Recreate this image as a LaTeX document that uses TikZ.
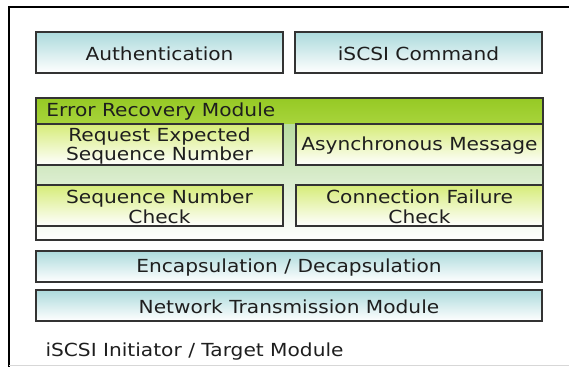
\documentclass[tikz,border=0pt]{standalone}
\usepackage{fontspec}
\setmainfont{DejaVu Sans}[FakeStretch=1.12]
\definecolor{boxline}{RGB}{51,51,51}
\definecolor{txt}{RGB}{30,30,30}
\definecolor{teal}{RGB}{172,218,220}
\definecolor{leaf}{RGB}{150,201,36}
\definecolor{lime}{RGB}{214,236,120}
\definecolor{moss}{RGB}{184,220,160}
\tikzset{every picture/.style={line width=0.75pt}}
\tikzset{
  bluebox/.style={draw=boxline, line width=1.1pt, top color=teal, bottom color=white},
  limebox/.style={draw=boxline, line width=1.1pt, top color=lime, bottom color=white},
  label/.style={text=txt, font=\fontsize{13.5}{14.8}\selectfont, align=center, inner sep=0pt}
}

\begin{document}
\begin{tikzpicture}[x=0.75pt,y=0.75pt,yscale=-1,xscale=1]
	\useasboundingbox (0,0) rectangle (569,367);

	%Straight Lines: outer frame
	\draw [line width=2pt]  (9,367) -- (9,7) -- (569,7) ;
	\draw [color={rgb, 255:red, 215; green, 215; blue, 215 }, line width=1pt]  (9,365.5) -- (569,365.5) ;

	%Shape: Rectangle
	\draw  [bluebox] (36,32) rectangle (283,73) ;
	%Shape: Rectangle
	\draw  [bluebox] (295,32) rectangle (542,73) ;

	%Shape: Rectangle (module body and header)
	\shade  [top color=moss, bottom color=white] (36,124) rectangle (543,240) ;
	\shade  [top color=leaf, bottom color={rgb, 255:red, 168; green, 212; blue, 60 }] (36,98) rectangle (543,124) ;
	\draw  [draw=boxline, line width=1.1pt] (36,98) rectangle (543,240) ;

	%Shape: Rectangle
	\draw  [limebox] (36,124) rectangle (283,165) ;
	%Shape: Rectangle
	\draw  [limebox] (296,124) rectangle (543,165) ;
	%Shape: Rectangle
	\draw  [limebox] (36,185) rectangle (283,226) ;
	%Shape: Rectangle
	\draw  [limebox] (296,185) rectangle (543,226) ;

	%Shape: Rectangle
	\draw  [bluebox] (36,251) rectangle (542,282) ;
	%Shape: Rectangle
	\draw  [bluebox] (36,290) rectangle (542,321) ;

	% Text Node
	\draw (159.5,53.5) node [label] (auth) {Authentication};
	% Text Node
	\draw (418.5,53.5) node [label] (cmd) {iSCSI Command};
	% Text Node
	\draw (46,112) node [label, anchor=west] (erm) {Error Recovery Module};
	% Text Node
	\draw (159.5,146) node [label] (rexp) {Request Expected\\Sequence Number};
	% Text Node
	\draw (419.5,145.5) node [label] (async) {Asynchronous Message};
	% Text Node
	\draw (159.5,207) node [label] (snc) {Sequence Number\\Check};
	% Text Node
	\draw (419.5,207) node [label] (cfc) {Connection Failure\\Check};
	% Text Node
	\draw (289,268) node [label] (encap) {Encapsulation / Decapsulation};
	% Text Node
	\draw (289,306.5) node [label] (net) {Network Transmission Module};
	% Text Node
	\draw (45,352) node [label, anchor=west] (itm) {iSCSI Initiator / Target Module};

\end{tikzpicture}
\end{document}
